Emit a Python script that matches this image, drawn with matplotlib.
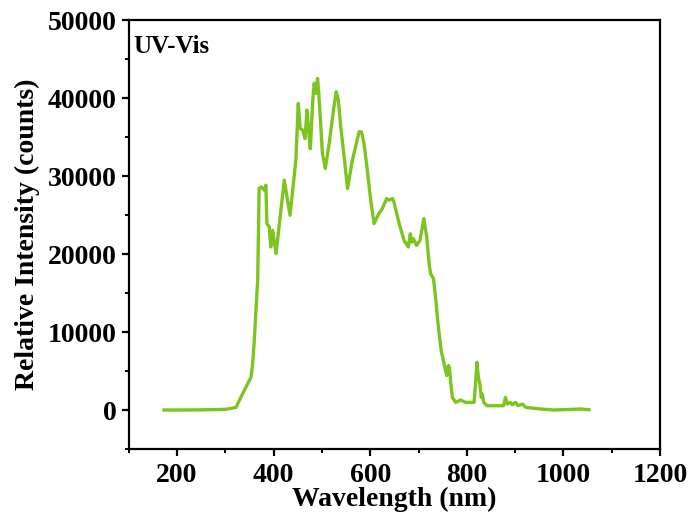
import matplotlib
matplotlib.use("Agg")
import matplotlib.pyplot as plt
from matplotlib.ticker import MultipleLocator

wavelength = [173, 200, 250, 300, 322, 332, 346, 353, 356.5, 360, 363, 367,
              370, 375, 380.6, 384, 386, 391, 394, 398, 405, 422, 434, 446,
              451, 455, 460, 465, 469, 472, 474, 476, 479, 481, 484, 487.5, 491, 493,
              496.5, 501, 507, 515, 524, 529.5, 534, 539, 546, 553, 563, 577, 582,
              587, 594, 601, 608, 618, 625, 634, 639, 646, 649, 660, 670, 679, 683,
              686, 689.5, 696, 703, 711, 717, 722, 725, 731, 733, 736, 739, 742, 747,
              753, 758.5, 762, 764, 767, 770, 777, 787, 797, 815, 818, 821, 824, 827,
              830, 832, 835, 842, 876, 880, 884, 890, 894, 901, 906, 915, 922, 953,
              980, 1036, 1053]
intensity = [0, 0, 20, 80, 330, 1620, 3340, 4190, 5900, 8900, 12370, 16600,
             28400, 28600, 28180, 28820, 23900, 23460, 20900, 23040, 20050, 29470, 24970, 32000,
             39300, 36100, 35900, 34800, 38460, 36300, 34800, 33500, 37200, 39700, 41900, 40600, 42500, 41000,
             37600, 32900, 30970, 34180, 38460, 40800, 39740, 36310, 32460, 28400, 32000, 35670, 35670,
             34180, 30750, 26900, 23900, 25190, 25830, 27110, 26900, 27110, 26680, 23900, 21750, 20900, 22600,
             21540, 21970, 21100, 21750, 24540, 22180, 18760, 17480, 16830, 15750, 14050, 11900, 10190, 7620,
             5910, 4410, 5690, 5470, 3340, 1620, 980, 1290, 980, 980, 3340, 6120, 4190, 3340,
             1620, 2050, 980, 550, 550, 1620, 770, 980, 680, 980, 550, 770, 340, 130,
             0, 130, 40]

plt.rcParams['font.family'] = ['Liberation Serif', 'DejaVu Serif']
plt.rcParams['font.weight'] = 'bold'

fig = plt.figure(figsize=(6.94, 5.24), dpi=100)
ax = fig.add_axes([0.1855, 0.1431, 0.7655, 0.8187])

ax.plot(wavelength, intensity, color='#7CC520', lw=2.4, solid_joinstyle='round')

ax.set_xlim(100, 1200)
ax.set_ylim(-5000, 50000)
ax.xaxis.set_major_locator(MultipleLocator(200))
ax.xaxis.set_minor_locator(MultipleLocator(100))
ax.yaxis.set_major_locator(MultipleLocator(10000))
ax.yaxis.set_minor_locator(MultipleLocator(5000))

for s in ax.spines.values():
    s.set_linewidth(1.6)

ax.tick_params(axis='both', which='major', direction='out', length=5, width=1.6,
               labelsize=20, top=False, right=False)
ax.tick_params(axis='x', which='major', pad=5)
ax.tick_params(axis='both', which='minor', direction='out', length=3, width=1.4,
               top=False, right=False)
for lab in ax.get_xticklabels() + ax.get_yticklabels():
    lab.set_fontweight('bold')

ax.set_xlabel('Wavelength (nm)', fontsize=20, fontweight='bold', labelpad=-1)
ax.set_ylabel('Relative Intensity (counts)', fontsize=20, fontweight='bold', labelpad=6)

ax.text(0.008, 0.965, 'UV-Vis', transform=ax.transAxes, fontsize=18,
        fontweight='bold', ha='left', va='top')

fig.savefig('out.png', dpi=100)
